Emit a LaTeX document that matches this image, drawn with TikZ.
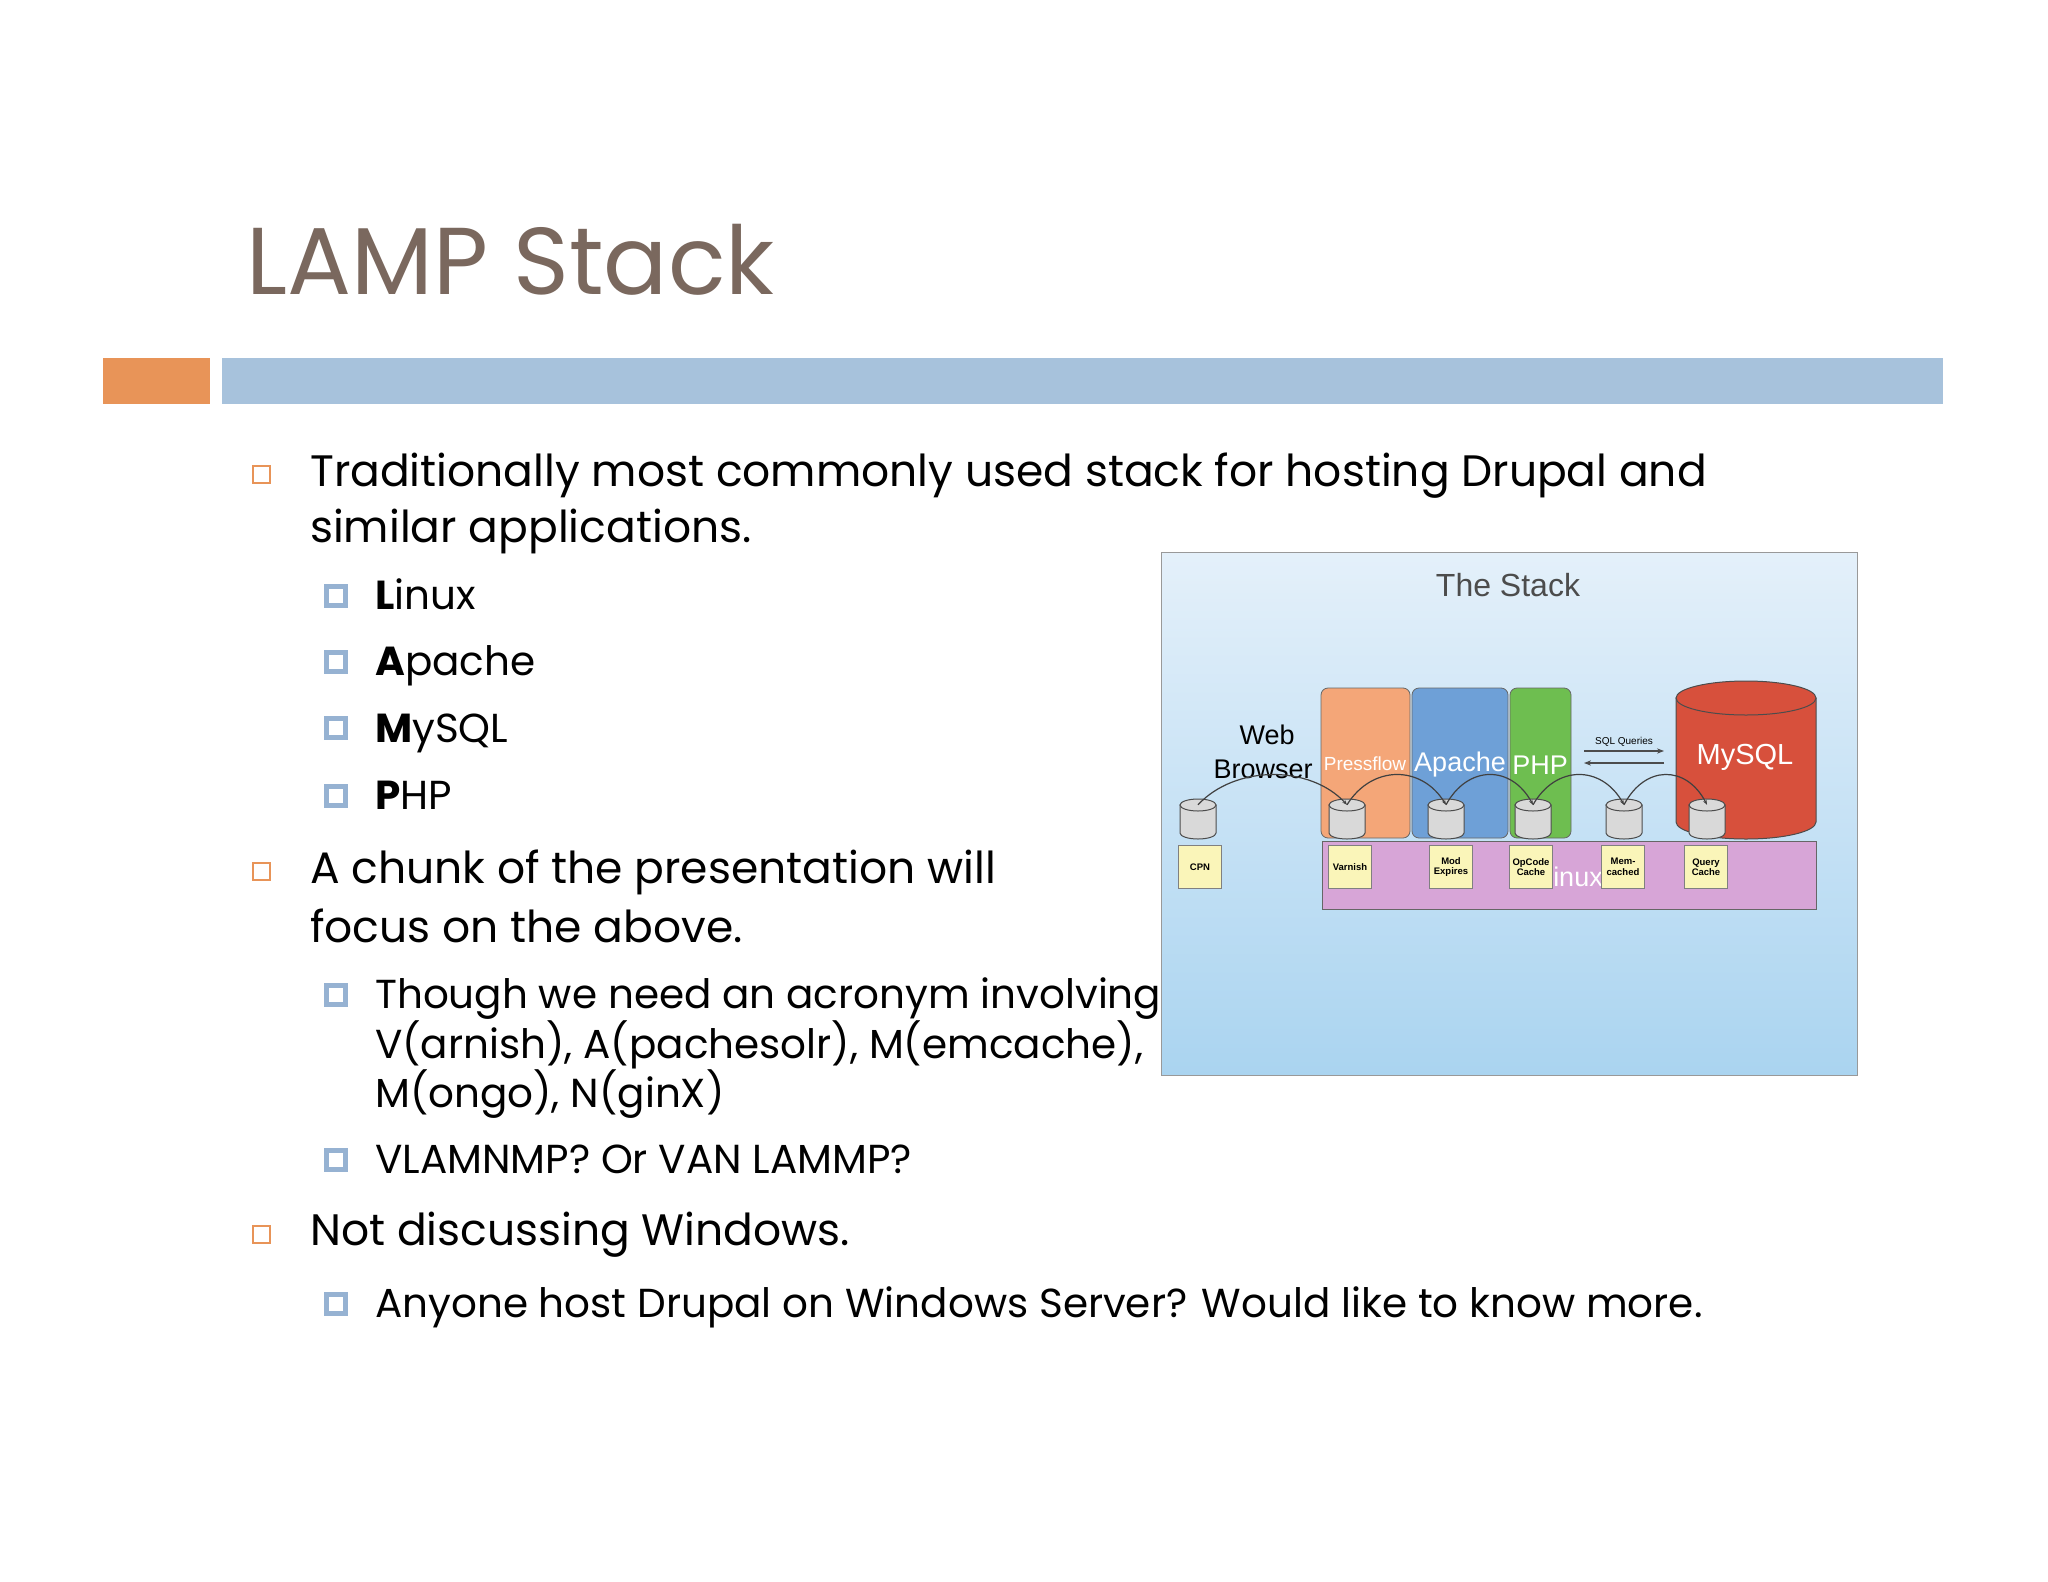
\documentclass[tikz,border=0pt]{standalone}
\usepackage{fontspec}
\setmainfont{Poppins}
\newfontfamily\lib{Liberation Sans}
\usetikzlibrary{arrows.meta,shapes.geometric,calc}
\definecolor{titlec}{RGB}{122,104,94}
\definecolor{orbar}{RGB}{232,148,88}
\definecolor{blbar}{RGB}{167,194,220}
\definecolor{bulc}{RGB}{232,148,88}
\definecolor{bul2}{RGB}{150,178,210}
\definecolor{pf}{RGB}{244,166,120}
\definecolor{ap}{RGB}{110,160,215}
\definecolor{ph}{RGB}{110,190,80}
\definecolor{my}{RGB}{215,80,60}
\definecolor{lx}{RGB}{215,165,215}
\definecolor{yl}{RGB}{250,245,185}
% cylinder: centre x, top y, half width, height, ry, fill
\newcommand\mycyl[6]{%
  \draw[draw=black!70,fill=#6,line width=1pt] (#1-#3,#2) -- (#1-#3,#2+#4) arc[start angle=180,end angle=0,x radius=#3,y radius=#5] -- (#1+#3,#2) -- cycle;
  \draw[draw=black!70,fill=#6,line width=1pt] (#1,#2) ellipse[x radius=#3,y radius=#5];}
\begin{document}
\begin{tikzpicture}[x=1pt,y=-1pt,
  txt/.style={anchor=base west,inner sep=0,font=\fontsize{44}{48}\selectfont},
  txtb/.style={anchor=base west,inner sep=0,font=\fontsize{40.5}{45}\selectfont},
  bA/.style={draw=bulc,line width=2pt,minimum size=17pt,inner sep=0},
  bB/.style={draw=bul2,fill=white,line width=5pt,minimum size=19pt,inner sep=0},
  col/.style={draw=black!60,rounded corners=7pt,line width=0.8pt},
  yel/.style={draw=black!50,fill=yl,line width=0.6pt,minimum width=43pt,minimum height=43pt,inner sep=0,align=center,font=\lib\bfseries\fontsize{9.5}{10.5}\selectfont},
  can/.style={inner sep=0,minimum width=36pt,minimum height=42pt},
  lbl/.style={text=white,inner sep=0,font=\lib\fontsize{27}{29}\selectfont},
  arc/.style={draw=black!75,line width=1.2pt}]
\useasboundingbox (0,0) rectangle (2048,1582);
\fill[white] (0,0) rectangle (2048,1582);
\node[anchor=base west,inner sep=0,text=titlec,font=\fontsize{95}{100}\selectfont] (title) at (246,294) {LAMP Stack};
\fill[orbar] (103,358) rectangle (210,404);
\fill[blbar] (222,358) rectangle (1943,404);
% bullets
\node[bA] (b1) at (261,474) {};
\node[txt] (t1) at (310,486) {Traditionally most commonly used stack for hosting Drupal and};
\node[txt] (t1b) at (310,542) {similar applications.};
\node[bB] (b2) at (336,596) {}; \node[txtb] (t2) at (375,609) {\textbf{L}inux};
\node[bB] (b3) at (336,662) {}; \node[txtb] (t3) at (375,675) {\textbf{A}pache};
\node[bB] (b4) at (336,728) {}; \node[txtb] (t4) at (375,742) {\textbf{M}ySQL};
\node[bB] (b5) at (336,796) {}; \node[txtb] (t5) at (375,809) {\textbf{P}HP};
\node[bA] (b6) at (261,871) {};
\node[txt] (t6) at (310,883) {A chunk of the presentation will};
\node[txt] (t6b) at (310,942) {focus on the above.};
\node[bB] (b7) at (336,995) {}; \node[txtb] (t7) at (375,1008) {Though we need an acronym involving};
\node[txtb] (t7b) at (375,1058) {V(arnish), A(pachesolr), M(emcache),};
\node[txtb] (t7c) at (375,1107) {M(ongo), N(ginX)};
\node[bB] (b8) at (336,1160) {}; \node[txtb] (t8) at (375,1173) {VLAMNMP? Or VAN LAMMP?};
\node[bA] (b9) at (261,1234) {};
\node[txt] (t9) at (310,1245) {Not discussing Windows.};
\node[bB] (b10) at (336,1304) {}; \node[txtb] (t10) at (375,1317) {Anyone host Drupal on Windows Server? Would like to know more.};
% diagram
\shade[top color={rgb,255:red,228;green,240;blue,250},bottom color={rgb,255:red,170;green,212;blue,240}] (1161,552) rectangle (1857,1075);
\draw[black!40,line width=1pt] (1161,552) rectangle (1857,1075);
\node[inner sep=0,text=black!70,font=\lib\fontsize{32}{34}\selectfont] (stack) at (1508,585) {The Stack};
\draw[col,fill=lx,rounded corners=0] (1322,841) rectangle (1816,909);
\draw[col,fill=pf] (1321,688) rectangle (1410,838);
\draw[col,fill=ap] (1412,688) rectangle (1508,838);
\draw[col,fill=ph] (1510,688) rectangle (1571,838);
\mycyl{1746}{698}{70}{124}{17}{my}
\node[lbl,font=\lib\fontsize{19}{21}\selectfont] (pfl) at (1365,764) {Pressflow};
\node[lbl] (apl) at (1460,765) {Apache};
\node[lbl] (phl) at (1540,765) {PHP};
\node[lbl,font=\lib\fontsize{29}{31}\selectfont] (myl) at (1745,757) {MySQL};
\node[lbl] (lxl) at (1578,877) {inux};
\node[inner sep=0,font=\lib\fontsize{27}{34}\selectfont,align=center] (web) at (1263,752) {\hspace*{8pt}Web\\Browser};
\node[inner sep=0,font=\lib\fontsize{10}{11}\selectfont] (sqlq) at (1624,742) {SQL Queries};
\coordinate (s1) at (1584,751); \coordinate (s2) at (1664,751);
\coordinate (s3) at (1664,763); \coordinate (s4) at (1584,763);
\draw[-{Stealth[length=7pt]},black!70,line width=1.2pt] (s1) -- (s2);
\draw[-{Stealth[length=7pt]},black!70,line width=1.2pt] (s3) -- (s4);
\node[yel] (cpn) at (1200,867) {CPN};
\node[yel] (var) at (1350,867) {Varnish};
\node[yel] (mod) at (1451,867) {Mod\\Expires};
\node[yel] (opc) at (1531,867) {OpCode\\Cache};
\node[yel] (mem) at (1623,867) {Mem-\\cached};
\node[yel] (qry) at (1706,867) {Query\\Cache};
\foreach \n/\x in {c1/1198,c2/1347,c3/1446,c4/1533,c5/1624,c6/1707}{
  \mycyl{\x}{805}{18}{28}{6}{gray!30}
  \node[can] (\n) at (\x,818) {};}
\foreach \i/\j in {1/2,2/3,3/4,4/5,5/6}{
  \draw[arc,-{Stealth[length=5pt]}] ($(c\i.north)+(0,8)$) .. controls ($(c\i.north)!0.25!(c\j.north)+(0,-32)$) and ($(c\i.north)!0.75!(c\j.north)+(0,-32)$) .. ($(c\j.north)+(0,8)$);}
\end{tikzpicture}
\end{document}
